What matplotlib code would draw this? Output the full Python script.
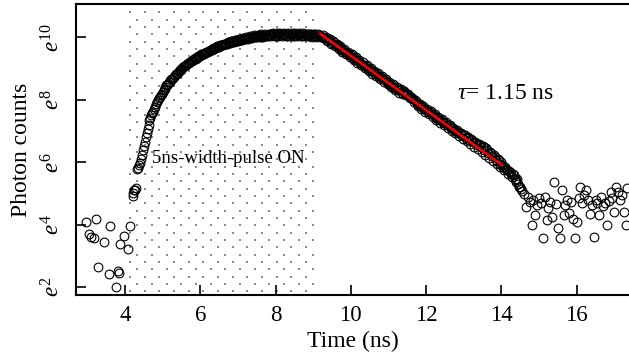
import numpy as np
import matplotlib
matplotlib.use('Agg')
import matplotlib.pyplot as plt
from matplotlib.ticker import FixedLocator, NullLocator, FixedFormatter

plt.rcParams['font.family'] = ['Liberation Serif', 'DejaVu Serif']
plt.rcParams['mathtext.fontset'] = 'custom'
plt.rcParams['mathtext.rm'] = 'Liberation Serif'
plt.rcParams['mathtext.it'] = 'Liberation Serif:italic'

# ---------------- data (ln of photon counts) ----------------
# sparse background points before the pulse
early_t = [2.96, 3.05, 3.09, 3.18, 3.23, 3.29, 3.45, 3.57, 3.60, 3.76,
           3.82, 3.84, 3.87, 3.98, 4.08, 4.14]
early_ln = [4.09, 3.71, 3.62, 3.57, 4.18, 2.66, 3.46, 2.43, 3.96, 2.02,
            2.53, 2.45, 3.39, 3.65, 3.23, 3.96]

# dense part, bins every 0.05 ns starting at 4.20 ns
main_start = 4.20
main_step = 0.05
main_ln = [
    4.92, 5.10, 5.18, 5.83, 5.97, 6.24, 6.52, 6.80, 7.08, 7.35,   # 4.20-4.65
    7.50, 7.62, 7.78, 7.92, 8.05, 8.14, 8.24, 8.35, 8.46, 8.52,   # 4.70-5.15
    8.58, 8.68, 8.73, 8.82, 8.86, 8.95, 8.98, 9.06, 9.08, 9.15,   # 5.20-5.65
    9.17, 9.25, 9.26, 9.33, 9.34, 9.40, 9.41, 9.47, 9.47, 9.53,   # 5.70-6.15
    9.53, 9.59, 9.59, 9.65, 9.65, 9.71, 9.70, 9.76, 9.75, 9.80,   # 6.20-6.65
    9.79, 9.85, 9.83, 9.88, 9.86, 9.92, 9.89, 9.95, 9.92, 9.97,   # 6.70-7.15
    9.96, 9.99, 9.98, 10.02, 10.00, 10.04, 10.01, 10.06, 10.03, 10.07,  # 7.20-7.65
    10.04, 10.08, 10.05, 10.10, 10.06, 10.09, 10.05, 10.11, 10.06, 10.10,  # 7.70-8.15
    10.06, 10.11, 10.05, 10.10, 10.07, 10.12, 10.05, 10.10, 10.06, 10.11,  # 8.20-8.65
    10.05, 10.10, 10.06, 10.11, 10.04, 10.09, 10.05, 10.10, 10.04, 10.08,  # 8.70-9.15
    10.04, 10.06, 9.98, 10.00, 9.91, 9.93, 9.83, 9.85, 9.75, 9.74,  # 9.20-9.65
    9.66, 9.60, 9.59, 9.52, 9.50, 9.44, 9.42, 9.35, 9.33, 9.26,   # 9.70-10.15
    9.24, 9.17, 9.16, 9.08, 9.07, 9.00, 8.99, 8.91, 8.90, 8.83,   # 10.20-10.65
    8.81, 8.74, 8.73, 8.65, 8.64, 8.56, 8.55, 8.48, 8.47, 8.39,   # 10.70-11.15
    8.38, 8.30, 8.30, 8.22, 8.24, 8.18, 8.20, 8.12, 8.10, 8.02,   # 11.20-11.65
    7.98, 7.88, 7.86, 7.79, 7.76, 7.70, 7.68, 7.61, 7.60, 7.53,   # 11.70-12.15
    7.51, 7.43, 7.42, 7.35, 7.35, 7.28, 7.27, 7.19, 7.18, 7.11,   # 12.20-12.65
    7.10, 7.02, 7.01, 6.94, 6.94, 6.86, 6.87, 6.79, 6.80, 6.72,   # 12.70-13.15
    6.73, 6.64, 6.66, 6.56, 6.60, 6.48, 6.52, 6.40, 6.46, 6.30,   # 13.20-13.65
    6.34, 6.20, 6.24, 6.08, 6.12, 5.96, 6.00, 5.84, 5.86, 5.74,   # 13.70-14.15
    5.72, 5.62, 5.64, 5.48, 5.42, 5.30, 5.22, 5.08,               # 14.20-14.55
]

# interleaved bins, every 0.05 ns starting at 4.225 ns
mid_start = 4.225
mid_step = 0.05
mid_ln = [
    5.02, 5.12, 5.80, 5.90, 6.12, 6.38, 6.66, 6.95, 7.20, 7.42,   # 4.225-4.675
    7.58, 7.70, 7.86, 7.98, 8.10, 8.20, 8.30, 8.41, 8.48, 8.57,   # 4.725-5.175
    8.65, 8.70, 8.79, 8.84, 8.92, 8.96, 9.03, 9.07, 9.12, 9.17,   # 5.225-5.675
    9.21, 9.24, 9.31, 9.32, 9.38, 9.39, 9.45, 9.45, 9.51, 9.52,   # 5.725-6.175
    9.57, 9.58, 9.63, 9.64, 9.69, 9.70, 9.74, 9.74, 9.79, 9.79,   # 6.225-6.675
    9.84, 9.82, 9.88, 9.85, 9.91, 9.88, 9.94, 9.91, 9.97, 9.94,   # 6.725-7.175
    10.01, 9.95, 10.04, 9.98, 10.06, 10.00, 10.08, 10.01, 10.09, 10.02,  # 7.225-7.675
    10.11, 10.03, 10.12, 10.03, 10.13, 10.04, 10.13, 10.04, 10.13, 10.03,  # 7.725-8.175
    10.14, 10.04, 10.13, 10.03, 10.14, 10.04, 10.13, 10.03, 10.13, 10.04,  # 8.225-8.675
    10.13, 10.03, 10.12, 10.03, 10.12, 10.02, 10.11, 10.02, 10.10, 10.01,  # 8.725-9.175
    10.02, 9.99, 9.98, 9.88, 9.93, 9.80, 9.87, 9.71, 9.80, 9.62,  # 9.225-9.675
    9.72, 9.54, 9.63, 9.45, 9.54, 9.36, 9.46, 9.27, 9.37, 9.19,   # 9.725-10.175
    9.28, 9.10, 9.20, 9.01, 9.11, 8.93, 9.02, 8.84, 8.93, 8.75,   # 10.225-10.675
    8.85, 8.66, 8.76, 8.58, 8.67, 8.49, 8.58, 8.40, 8.50, 8.32,   # 10.725-11.175
    8.41, 8.23, 8.33, 8.20, 8.27, 8.14, 8.19, 8.05, 8.07, 7.93,   # 11.225-11.675
    7.97, 7.80, 7.88, 7.71, 7.80, 7.62, 7.71, 7.54, 7.63, 7.45,   # 11.725-12.175
    7.54, 7.36, 7.45, 7.27, 7.37, 7.18, 7.28, 7.10, 7.19, 7.01,   # 12.225-12.675
    7.11, 6.93, 7.02, 6.84, 6.94, 6.75, 6.86, 6.67, 6.78, 6.58,   # 12.725-13.175
    6.71, 6.50, 6.63, 6.43, 6.56, 6.34, 6.49, 6.24, 6.40, 6.14,   # 13.225-13.675
    6.30, 6.04, 6.18, 5.93, 6.06, 5.84, 5.92, 5.74, 5.80, 5.64,   # 13.725-14.175
    5.70, 5.52, 5.58, 5.38, 5.45, 5.22, 5.15,                     # 14.225-14.525
]

# noisy tail, bins every 0.05 ns starting at 14.60 ns
tail_start = 14.60
tail_step = 0.05
tail_ln = [
    5.00, 4.58, 4.90, 4.74, 3.99, 4.80, 4.31, 4.63, 4.85, 4.70,   # 14.60-15.05
    3.57, 4.90, 4.15, 4.53, 4.72, 4.26, 5.38, 4.68, 3.89, 3.57,   # 15.10-15.55
    5.11, 4.31, 4.62, 4.80, 4.37, 4.74, 4.18, 3.57, 4.10, 4.85,   # 15.60-16.05
    5.22, 4.70, 4.95, 5.11, 4.80, 4.34, 4.62, 3.60, 4.80, 4.70,   # 16.10-16.55
    4.31, 4.88, 4.60, 4.69, 3.99, 4.75, 5.05, 4.85, 4.42, 5.22,   # 16.60-17.05
    5.05, 4.78, 4.95, 4.42, 3.99, 5.17,                           # 17.10-17.35
]

# single-exponential fit (end points, ln scale)
fit_t = [9.16, 14.04]
fit_ln = [10.14, 5.89]
tau_text = r"$\tau$= 1.15 ns"

pulse_on = [4.13, 9.00]          # ns, shaded "pulse ON" window
pulse_text = "5ns-width-pulse ON"

x_ticks = [4, 6, 8, 10, 12, 14, 16]
y_tick_powers = [2, 4, 6, 8, 10]

# ---------------- assemble ----------------
main_t = main_start + main_step * np.arange(len(main_ln))
mid_t = mid_start + mid_step * np.arange(len(mid_ln))
tail_t = tail_start + tail_step * np.arange(len(tail_ln))
all_t = np.concatenate([early_t, main_t, mid_t, tail_t])
all_ln = np.concatenate([early_ln, main_ln, mid_ln, tail_ln])

fig = plt.figure(figsize=(6.29, 3.63), dpi=100)
ax = fig.add_axes([76 / 629, 68 / 363, 553 / 629, 290.7 / 363])
ax.set_yscale('log')
ax.set_xlim(2.698, 17.39)
ax.set_ylim(np.exp(1.754), np.exp(11.056))

# dotted texture of the pulse-on window
ncol = 26
col_x = np.linspace(pulse_on[0], pulse_on[1], ncol)
row_k = np.arange(-12, 27)
row_y = 0.3154 + 0.02528 * row_k
gx, gy = [], []
for k, yy in zip(row_k, row_y):
    for j, xx in enumerate(col_x):
        if (k + j) % 2 == 0:
            gx.append(xx)
            gy.append(yy)
ax.scatter(gx, gy, s=2.2, marker='s', color='#8a8a8a', linewidths=0,
           transform=ax.get_xaxis_transform(), zorder=1)

ax.plot(all_t, np.exp(all_ln), linestyle='none', marker='o', ms=6.3,
        mfc='none', mec='black', mew=0.8, zorder=2)
ax.plot(fit_t, np.exp(fit_ln), color='red', lw=1.8, zorder=3,
        solid_capstyle='butt')

ax.text(12.81, np.exp(8.21), tau_text, fontsize=17, ha='left', va='center')
ax.text(4.72, np.exp(6.11), pulse_text, fontsize=13.5, ha='left', va='center')

ax.xaxis.set_major_locator(FixedLocator(x_ticks))
ax.yaxis.set_major_locator(FixedLocator([np.exp(p) for p in y_tick_powers]))
ax.yaxis.set_major_formatter(FixedFormatter([r'$e^{%d}$' % p for p in y_tick_powers]))
ax.yaxis.set_minor_locator(NullLocator())
ax.xaxis.set_minor_locator(NullLocator())

ax.tick_params(direction='in', length=7.5, width=1.2, top=False, right=False,
               labelsize=16.5)
ax.tick_params(axis='x', pad=7)
ax.tick_params(axis='y', pad=8, labelrotation=90)
for lbl in ax.get_yticklabels():
    lbl.set_va('center')

for s in ['left', 'bottom', 'top']:
    ax.spines[s].set_linewidth(1.5)
ax.spines['right'].set_visible(False)

ax.set_xlabel('Time (ns)', fontsize=17, labelpad=4)
ax.set_ylabel('Photon counts', fontsize=17, labelpad=7)

fig.savefig('out.png', dpi=100)
